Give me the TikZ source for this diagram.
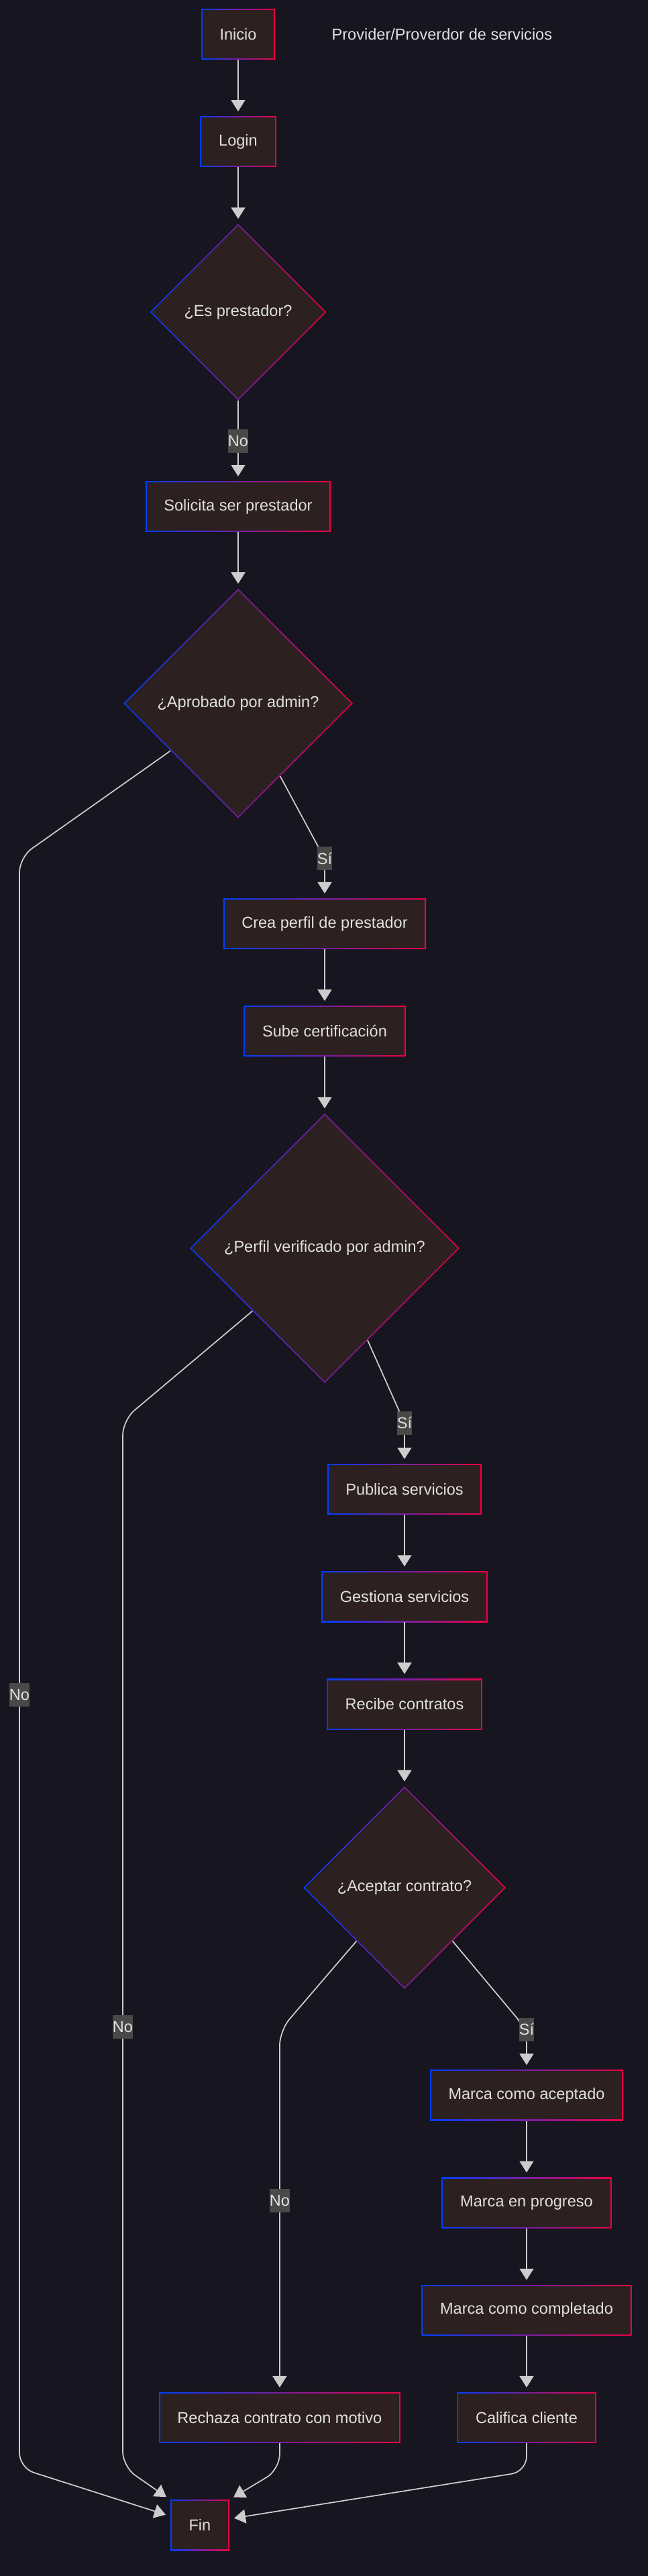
\documentclass[tikz,border=0pt]{standalone}
\usepackage{fontspec}
\setmainfont{Liberation Sans}
\usepackage{tikz}
\usetikzlibrary{shapes.geometric, arrows.meta, positioning, calc}
\definecolor{fondo}{RGB}{22, 21, 32}
\definecolor{fondonodo}{RGB}{44, 32, 32}
\definecolor{bordeazul}{RGB}{0, 62, 255}
\definecolor{borderojo}{RGB}{240, 0, 68}
\definecolor{textogris}{RGB}{224, 224, 224}
\definecolor{lineagris}{RGB}{204, 204, 204}
\definecolor{etiqgris}{RGB}{72, 74, 72}

\begin{document}
\begin{tikzpicture}[
    proc/.style={rectangle, left color=bordeazul, right color=borderojo, minimum height=1.51cm, inner xsep=0.55cm, text=textogris, font=\fontsize{13.4}{16}\selectfont,
        path picture={\fill[fondonodo] ([shift={(0.035cm,0.035cm)}]path picture bounding box.south west) rectangle ([shift={(-0.035cm,-0.035cm)}]path picture bounding box.north east);}},
    decision/.style={diamond, aspect=1, inner sep=0pt, left color=bordeazul, right color=borderojo, text=textogris, font=\fontsize{13.4}{16}\selectfont,
        path picture={\fill[fondonodo] ([yshift=-0.05cm]path picture bounding box.north) -- ([xshift=-0.05cm]path picture bounding box.east) -- ([yshift=0.05cm]path picture bounding box.south) -- ([xshift=0.05cm]path picture bounding box.west) -- cycle;}},
    titulo/.style={inner sep=0pt, text=textogris, font=\fontsize{13.4}{16}\selectfont},
    lbl/.style={sharp corners, fill=etiqgris, text=textogris, inner xsep=0pt, inner ysep=0pt, minimum height=0.7cm, font=\fontsize{13.4}{16}\selectfont},
    flow/.style={draw=lineagris, line width=0.035cm, rounded corners=0.45cm, shorten >=0.14cm, -{Triangle[length=0.34cm, width=0.42cm]}}
]
    % Fondo
    \fill[fondo] (0,0) rectangle (19.32,-76.8);
    \useasboundingbox (0,0) rectangle (19.32,-76.8);

    % Nodos
    \node[proc] (inicio) at (7.1,-1.02) {Inicio};
    \node[titulo, right=1.68cm of inicio] (titulo) {Provider/Proverdor de servicios};
    \node[proc, below=1.68cm of inicio] (login) {Login};
    \node[decision, minimum size=5.26cm, below=1.68cm of login] (esprest) {¿Es prestador?};
    \node[proc, below=2.4cm of esprest] (solicita) {Solicita ser prestador};
    \node[decision, minimum size=6.84cm, below=1.68cm of solicita] (aprobado) {¿Aprobado por admin?};
    \node[proc, below=2.38cm of aprobado, xshift=2.58cm] (crea) {Crea perfil de prestador};
    \node[proc, below=1.68cm of crea] (sube) {Sube certificación};
    \node[decision, minimum size=8.04cm, below=1.68cm of sube] (perfil) {¿Perfil verificado por admin?};
    \node[proc, below=2.4cm of perfil, xshift=2.38cm] (publica) {Publica servicios};
    \node[proc, below=1.68cm of publica] (gestiona) {Gestiona servicios};
    \node[proc, below=1.68cm of gestiona] (recibe) {Recibe contratos};
    \node[decision, minimum size=6.04cm, below=1.68cm of recibe] (aceptar) {¿Aceptar contrato?};
    \node[proc, below=2.4cm of aceptar, xshift=3.64cm] (aceptado) {Marca como aceptado};
    \node[proc, below=1.68cm of aceptado] (progreso) {Marca en progreso};
    \node[proc, below=1.68cm of progreso] (completado) {Marca como completado};
    \node[proc, below=1.68cm of completado] (califica) {Califica cliente};
    \node[proc, left=1.68cm of califica] (rechaza) {Rechaza contrato con motivo};
    \node[proc, below=1.68cm of rechaza, xshift=-2.38cm] (fin) {Fin};

    % Puntos de quiebre
    \coordinate (cA1) at (0.58,-25.56);
    \coordinate (cA2) at (0.58,-73.58);
    \coordinate (cB1) at (3.66,-42.34);
    \coordinate (cB2) at (3.66,-73.54);
    \coordinate (cC1) at ([yshift=10.78cm]rechaza.north);
    \coordinate (cD) at ([yshift=-0.78cm]rechaza.south);
    \coordinate (cE) at ([yshift=-0.84cm]califica.south);
    \coordinate (siA) at ([yshift=1.18cm]crea.north);
    \coordinate (siB) at ([yshift=1.22cm]publica.north);
    \coordinate (siC) at ([yshift=1.2cm]aceptado.north);

    % Conexiones
    \draw[flow] (inicio) -- (login);
    \draw[flow] (login) -- (esprest);
    \draw[flow] (esprest) -- node[lbl]{No} (solicita);
    \draw[flow] (solicita) -- (aprobado);
    \draw[flow] (aprobado.-60) -- (siA) node[lbl]{Sí} -- (crea.north);
    \draw[flow] (aprobado.215) -- (cA1) -- node[lbl, pos=0.52]{No} (cA2) -- (fin.163);
    \draw[flow] (crea) -- (sube);
    \draw[flow] (sube) -- (perfil);
    \draw[flow] (perfil.-65) -- (siB) node[lbl]{Sí} -- (publica.north);
    \draw[flow] (perfil.221) -- (cB1) -- node[lbl, pos=0.58]{No} (cB2) -- (fin.north west);
    \draw[flow] (publica) -- (gestiona);
    \draw[flow] (gestiona) -- (recibe);
    \draw[flow] (recibe) -- (aceptar);
    \draw[flow] (aceptar.-48) -- (siC) node[lbl]{Sí} -- (aceptado.north);
    \draw[flow] (aceptar.228) -- (cC1) -- node[lbl, pos=0.47]{No} (rechaza.north);
    \draw[flow] (aceptado) -- (progreso);
    \draw[flow] (progreso) -- (completado);
    \draw[flow] (completado) -- (califica);
    \draw[flow] (rechaza.south) -- (cD) -- (fin.north east);
    \draw[flow] (califica.south) -- (cE) -- (fin.12);
\end{tikzpicture}
\end{document}
